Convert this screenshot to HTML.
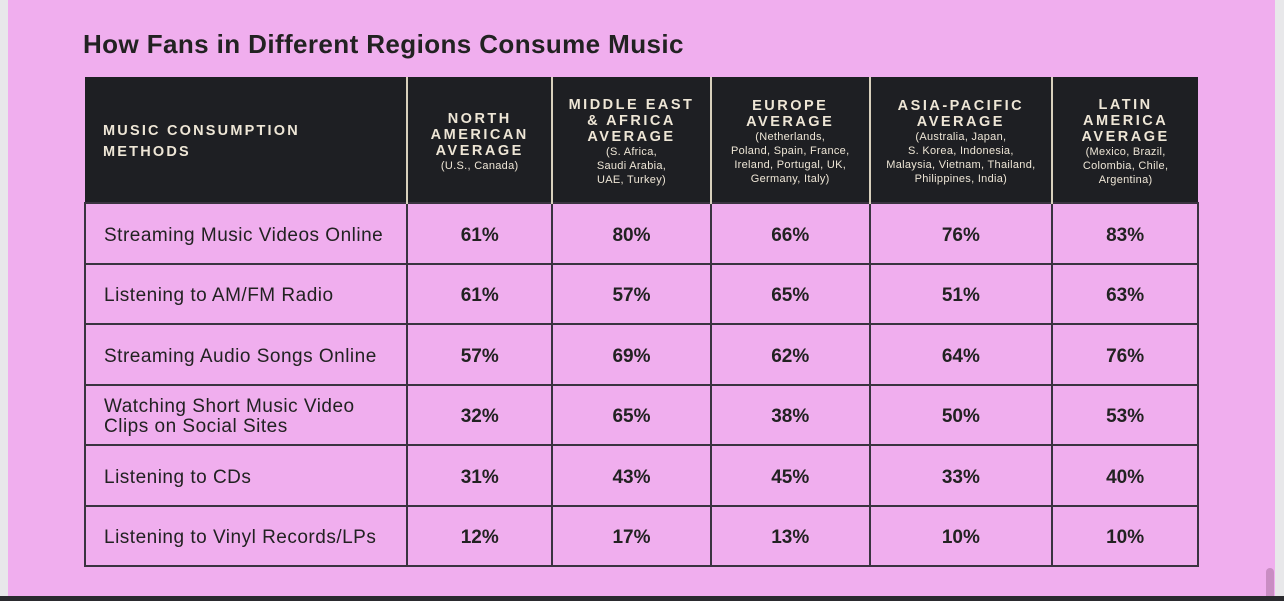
<!DOCTYPE html>
<html><head><meta charset="utf-8"><style>
*{margin:0;padding:0;box-sizing:border-box}
body{width:1284px;height:601px;background:#e8e8ea;position:relative;overflow:hidden;font-family:"Liberation Sans",sans-serif}
#pg{position:absolute;left:8px;top:0;width:1267px;height:596px;background:#f0aeee}
#bot{position:absolute;left:0;top:596px;width:1284px;height:5px;background:#2a2a2e}
#thumb{position:absolute;left:1266px;top:568px;width:8px;height:28px;background:#c98dc3;border-radius:4px 4px 0 0}
h1{position:absolute;left:83px;top:29px;font-size:26px;font-weight:bold;color:#222;letter-spacing:0.4px}
table{position:absolute;left:84px;top:77px;border-collapse:collapse;width:1115px}
th{background:#1e1f23;color:#eee6d6;font-size:14.5px;letter-spacing:2.5px;line-height:16px;font-weight:bold;height:126px;border-left:2px solid #d8d0bc;text-align:center;vertical-align:middle;padding-top:4px}
th small{display:block;font-size:11px;letter-spacing:0.3px;font-weight:normal;line-height:14px}
th:first-child{text-align:left;padding-left:18px;border-left:none;letter-spacing:2.2px;line-height:21px}
td{border:2px solid #3a3340;height:60.5px;text-align:center;font-size:19px;font-weight:bold;color:#222;padding-top:5px}
td:first-child{text-align:left;padding-left:18px;font-weight:normal;font-size:19px;line-height:20px;letter-spacing:0.5px}
</style></head><body>
<div id="pg"></div><div id="bot"></div><div id="thumb"></div>
<h1>How Fans in Different Regions Consume Music</h1>
<table>
<colgroup><col style="width:323px"><col style="width:145px"><col style="width:159px"><col style="width:159px"><col style="width:183px"><col style="width:146px"></colgroup>
<tr><th>MUSIC CONSUMPTION<br>METHODS</th>
<th>NORTH<br>AMERICAN<br>AVERAGE<small>(U.S., Canada)</small></th>
<th>MIDDLE EAST<br>&amp; AFRICA<br>AVERAGE<small>(S. Africa,<br>Saudi Arabia,<br>UAE, Turkey)</small></th>
<th>EUROPE<br>AVERAGE<small>(Netherlands,<br>Poland, Spain, France,<br>Ireland, Portugal, UK,<br>Germany, Italy)</small></th>
<th>ASIA-PACIFIC<br>AVERAGE<small>(Australia, Japan,<br>S. Korea, Indonesia,<br>Malaysia, Vietnam, Thailand,<br>Philippines, India)</small></th>
<th>LATIN<br>AMERICA<br>AVERAGE<small>(Mexico, Brazil,<br>Colombia, Chile,<br>Argentina)</small></th></tr>
<tr><td>Streaming Music Videos Online</td><td>61%</td><td>80%</td><td>66%</td><td>76%</td><td>83%</td></tr>
<tr><td>Listening to AM/FM Radio</td><td>61%</td><td>57%</td><td>65%</td><td>51%</td><td>63%</td></tr>
<tr><td>Streaming Audio Songs Online</td><td>57%</td><td>69%</td><td>62%</td><td>64%</td><td>76%</td></tr>
<tr><td>Watching Short Music Video<br>Clips on Social Sites</td><td>32%</td><td>65%</td><td>38%</td><td>50%</td><td>53%</td></tr>
<tr><td>Listening to CDs</td><td>31%</td><td>43%</td><td>45%</td><td>33%</td><td>40%</td></tr>
<tr><td>Listening to Vinyl Records/LPs</td><td>12%</td><td>17%</td><td>13%</td><td>10%</td><td>10%</td></tr>
</table>
</body></html>
